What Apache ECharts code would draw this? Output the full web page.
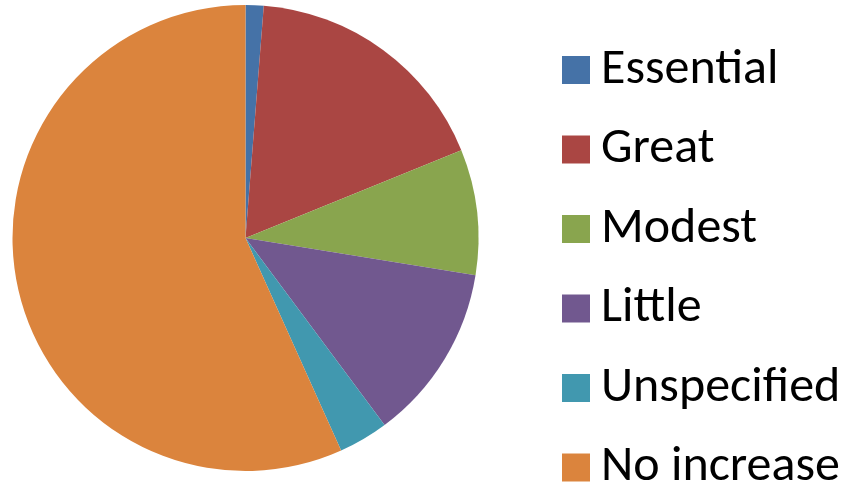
<!DOCTYPE html>
<html>
<head>
<meta charset="utf-8">
<script src="https://cdn.jsdelivr.net/npm/echarts@6/dist/echarts.min.js"></script>
<style>
html,body{margin:0;padding:0;background:#fff;}
#c{width:846px;height:490px;}
</style>
</head>
<body>
<div id="c"></div>
<script>
const categories = ['Essential', 'Great', 'Modest', 'Little', 'Unspecified', 'No increase'];
const values = [1.25, 17.6, 8.7, 12.27, 3.45, 56.73];
const colors = ['#4572A7', '#AA4643', '#89A54E', '#71588F', '#4198AF', '#DB843D'];

const chart = echarts.init(document.getElementById('c'), null, {renderer: 'canvas'});
chart.setOption({
  animation: false,
  color: colors,
  legend: {
    orient: 'vertical',
    left: 562,
    top: 45,
    height: 480,
    itemWidth: 28,
    itemHeight: 28,
    itemGap: 29.5,
    icon: 'rect',
    padding: 0,
    textStyle: {
      fontFamily: 'Carlito, Lato, "Open Sans", sans-serif',
      fontSize: 50,
      color: '#000',
      padding: [0, 0, 0, 6]
    },
    data: categories
  },
  series: [{
    type: 'pie',
    center: [245.5, 238],
    radius: 233,
    startAngle: 90,
    clockwise: true,
    label: {show: false},
    labelLine: {show: false},
    emphasis: {disabled: true},
    itemStyle: {borderWidth: 0},
    data: categories.map((c, i) => ({name: c, value: values[i]}))
  }]
});
</script>
</body>
</html>
